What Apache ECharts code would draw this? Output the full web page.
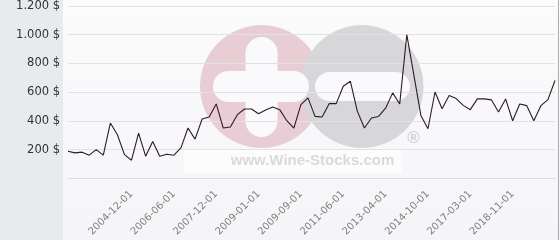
<!DOCTYPE html>
<html>
<head>
<meta charset="utf-8">
<script src="https://cdn.jsdelivr.net/npm/echarts@6/dist/echarts.min.js"></script>
<style>
html,body{margin:0;padding:0;background:#fafafc;}
#chart{width:560px;height:240px;}
</style>
</head>
<body>
<div id="chart"></div>
<script>
// Price values (USD), one per observation, in order
const prices = [
  189, 177, 182, 161, 200, 161, 385, 303, 165, 126,
  315, 154, 256, 154, 168, 161, 212, 350, 273, 413,
  427, 518, 350, 357, 443, 483, 483, 450, 476, 497,
  478, 401, 350, 513, 560, 431, 427, 520, 520, 641,
  676, 466, 350, 420, 431, 488, 595, 518, 1000, 720,
  438, 345, 601, 485, 576, 555, 508, 478, 553, 553,
  546, 462, 553, 401, 518, 506, 401, 506, 548, 681
];
// Date tick labels shown on the x axis (every 6th observation, starting at the 10th)
const tickLabels = [
  '2004-12-01', '2006-06-01', '2007-12-01', '2009-01-01', '2009-09-01',
  '2011-06-01', '2013-04-01', '2014-10-01', '2017-03-01', '2018-11-01'
];
const firstLabelIndex = 9;
const labelStep = 6;
// categories: label text where known, empty otherwise
const categories = prices.map((v, i) => {
  const k = (i - firstLabelIndex) / labelStep;
  return (i >= firstLabelIndex && Number.isInteger(k) && k < tickLabels.length) ? tickLabels[k] : '';
});
const yTicks = { min: 0, max: 1200, interval: 200 };

function fmtPrice(v) {
  const s = String(v).replace(/\B(?=(\d{3})+(?!\d))/g, '.');
  return s + ' $';
}

const chart = echarts.init(document.getElementById('chart'), null, {renderer: 'canvas'});
const plotBg = '#fafafc';
chart.setOption({
  animation: false,
  backgroundColor: {
    type: 'linear', x: 0, y: 0, x2: 0, y2: 1,
    colorStops: [{offset: 0, color: '#fbfbfc'}, {offset: 1, color: '#f5f5f8'}]
  },
  grid: { left: 68, right: 5, top: 6, bottom: 61.7, containLabel: false },
  graphic: [
    { type: 'rect', z: -20, shape: {x: 0, y: 0, width: 63, height: 240}, style: {fill: '#e8ebee'} },
    { type: 'line', z: -20, shape: {x1: 558.5, y1: 0, x2: 558.5, y2: 240}, style: {stroke: '#aaaaaa', lineWidth: 1} },
    { type: 'circle', z: -19, shape: {cx: 261.5, cy: 86.5, r: 61.5}, style: {fill: '#e9cdd5'} },
    { type: 'circle', z: -18, shape: {cx: 362, cy: 86.5, r: 61.5}, style: {fill: '#d7d7d9'} },
    { type: 'rect', z: -17, shape: {x: 245.5, y: 37, width: 32, height: 100, r: 16}, style: {fill: plotBg} },
    { type: 'rect', z: -17, shape: {x: 213, y: 71, width: 96, height: 31, r: 15.5}, style: {fill: plotBg} },
    { type: 'rect', z: -17, shape: {x: 315, y: 72, width: 95, height: 29, r: 14.5}, style: {fill: plotBg} },
    { type: 'text', z: -17, x: 413.5, y: 138.5,
      style: {text: '\u00AE', fill: '#d2d2d4', font: 'bold 17px "Liberation Sans", Arial, sans-serif', align: 'center', verticalAlign: 'middle'} },
    { type: 'rect', z: -18, shape: {x: 184, y: 150, width: 218, height: 23}, style: {fill: '#fcfcfd'} },
    { type: 'text', z: -17, x: 312.5, y: 161,
      style: {text: 'www.Wine-Stocks.com', fill: '#dadadc', font: 'bold 15px "Liberation Sans", Arial, sans-serif', align: 'center', verticalAlign: 'middle'} }
  ],
  xAxis: {
    type: 'category',
    data: categories,
    boundaryGap: false,
    axisLine: { show: true, lineStyle: { color: '#dcdcdc', width: 1 } },
    axisTick: { show: false },
    splitLine: { show: false },
    axisLabel: {
      interval: 0,
      rotate: 45,
      margin: 14,
      color: '#808080',
      fontSize: 10,
      fontFamily: '"DejaVu Sans", sans-serif'
    }
  },
  yAxis: {
    type: 'value',
    min: yTicks.min, max: yTicks.max, interval: yTicks.interval,
    axisLine: { show: false },
    axisTick: { show: false },
    splitLine: { show: true, lineStyle: { color: '#e2e2e4', width: 1 } },
    axisLabel: {
      showMinLabel: false,
      margin: 8,
      color: '#333333',
      fontSize: 11.5,
      fontFamily: '"DejaVu Sans", sans-serif',
      formatter: fmtPrice
    }
  },
  series: [{
    type: 'line',
    data: prices,
    symbol: 'none',
    lineStyle: { color: '#2e1a22', width: 1.1 },
    itemStyle: { color: '#2e1a22' }
  }]
});
</script>
</body>
</html>
